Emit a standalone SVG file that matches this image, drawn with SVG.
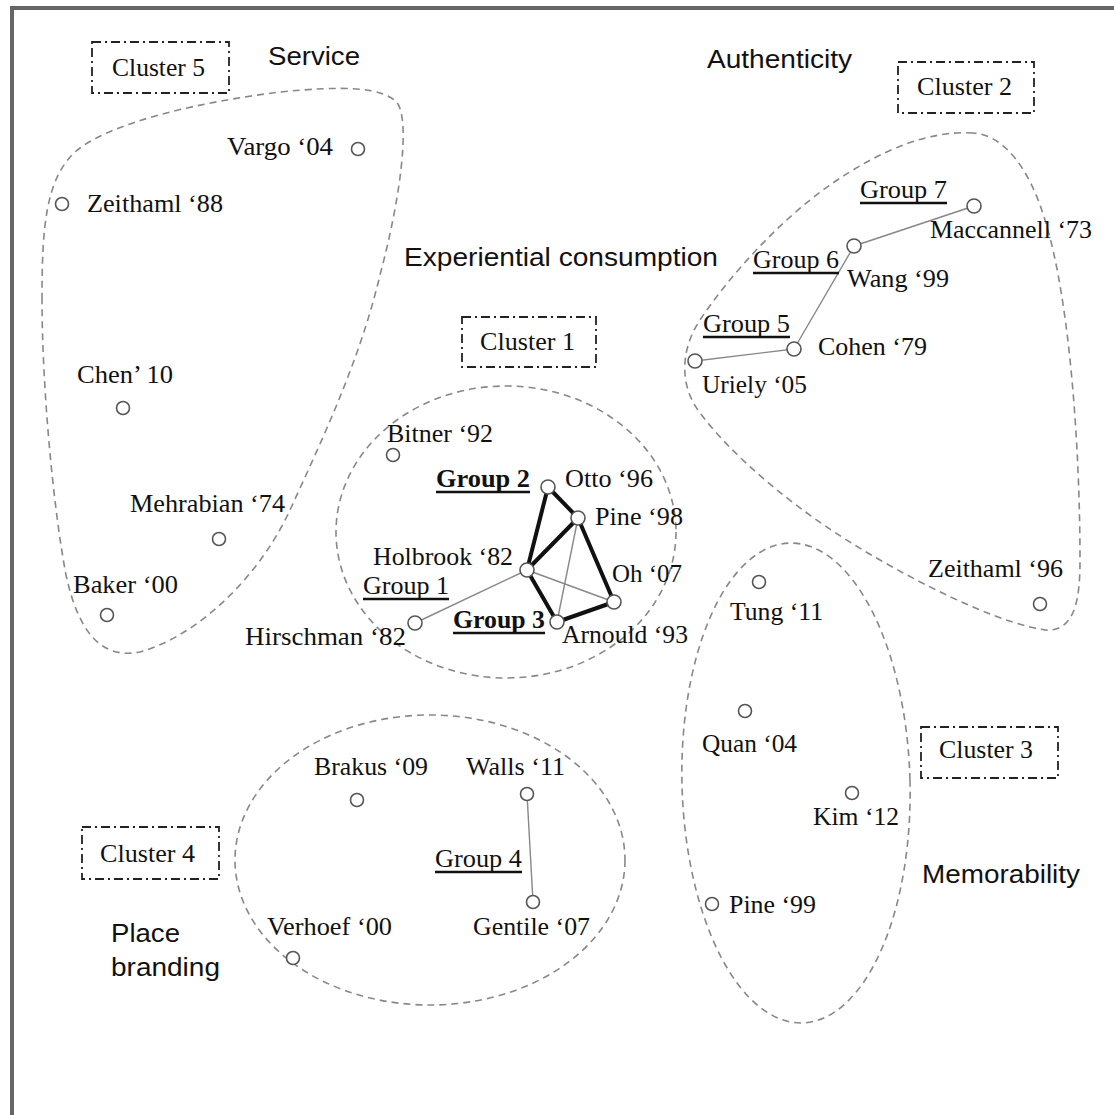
<svg xmlns="http://www.w3.org/2000/svg" width="1114" height="1115" viewBox="0 0 1114 1115">
<style>
.sf{font-family:"Liberation Serif","Times New Roman",serif;font-size:25px;fill:#111}
.sb{font-family:"Liberation Serif","Times New Roman",serif;font-size:25px;font-weight:bold;fill:#111}
.ss{font-family:"Liberation Sans",Arial,sans-serif;font-size:25px;fill:#111}
.nd{fill:#fff;stroke:#555;stroke-width:1.6}
.cb{fill:none;stroke:#222;stroke-width:1.8;stroke-dasharray:9 4 2 4}
.co{fill:none;stroke:#888;stroke-width:1.6;stroke-dasharray:7 5}
.ul{stroke:#111;stroke-width:2.6}
.thin{stroke:#888;stroke-width:1.4}
.thick{stroke:#111;stroke-width:4;stroke-linecap:round}
</style>
<rect x="0" y="0" width="1114" height="1115" fill="#fff"/>
<rect x="12" y="8" width="1300" height="1300" fill="none" stroke="#666" stroke-width="4"/>

<g id="cluster-outlines">
<path id="outline5" class="co" stroke-dasharray="5 3" d="M 42,300 C 42,230 45,180 75,152 C 110,122 200,102 280,92 C 340,86 385,86 398,104 C 410,125 400,200 380,275 C 360,360 322,440 290,510 C 260,575 200,635 140,652 C 100,660 78,630 66,575 C 52,500 42,380 42,300 Z"/>
<ellipse id="outline1" class="co" cx="506" cy="532" rx="170" ry="146"/>
<path id="outline2" class="co" d="M 973,133 C 930,130 880,150 830,185 C 780,220 730,275 700,320 C 680,350 680,385 698,410 C 730,455 800,515 880,560 C 950,600 1010,625 1045,630 C 1075,632 1080,600 1080,560 C 1080,450 1070,300 1045,220 C 1030,170 1005,135 973,133 Z"/>
<ellipse id="outline3" class="co" cx="796" cy="783" rx="114" ry="240" transform="rotate(-1.5 796 783)"/>
<ellipse id="outline4" class="co" cx="430" cy="860" rx="195" ry="145"/>
</g>

<g id="cluster-labels">
<g id="cluster5"><rect class="cb" x="92" y="42" width="137" height="51"/><text class="sf" x="112" y="76" textLength="93" lengthAdjust="spacingAndGlyphs">Cluster 5</text></g>
<g id="cluster2"><rect class="cb" x="898" y="62" width="136" height="51"/><text class="sf" x="917" y="95" textLength="95" lengthAdjust="spacingAndGlyphs">Cluster 2</text></g>
<g id="cluster1"><rect class="cb" x="462" y="317" width="134" height="50"/><text class="sf" x="480" y="350" textLength="95" lengthAdjust="spacingAndGlyphs">Cluster 1</text></g>
<g id="cluster3"><rect class="cb" x="921" y="727" width="137" height="51"/><text class="sf" x="939" y="758" textLength="94" lengthAdjust="spacingAndGlyphs">Cluster 3</text></g>
<g id="cluster4"><rect class="cb" x="82" y="827" width="137" height="52"/><text class="sf" x="100" y="862" textLength="95" lengthAdjust="spacingAndGlyphs">Cluster 4</text></g>
</g>

<g id="theme-labels">
<text class="ss" x="268" y="65" textLength="92" lengthAdjust="spacingAndGlyphs">Service</text>
<text class="ss" x="707" y="68" textLength="145" lengthAdjust="spacingAndGlyphs">Authenticity</text>
<text class="ss" x="404" y="266" textLength="314" lengthAdjust="spacingAndGlyphs">Experiential consumption</text>
<text class="ss" x="922" y="883" textLength="158" lengthAdjust="spacingAndGlyphs">Memorability</text>
<text class="ss" x="111" y="942" textLength="69" lengthAdjust="spacingAndGlyphs">Place</text>
<text class="ss" x="111" y="976" textLength="109" lengthAdjust="spacingAndGlyphs">branding</text>
</g>

<g id="connectors">
<line class="thin" x1="527" y1="570" x2="415" y2="623"/>
<line class="thin" x1="527" y1="570" x2="614" y2="602"/>
<line class="thin" x1="578" y1="518" x2="557" y2="622"/>
<line class="thick" x1="548" y1="487" x2="578" y2="518"/>
<line class="thick" x1="548" y1="487" x2="527" y2="570"/>
<line class="thick" x1="578" y1="518" x2="527" y2="570"/>
<line class="thick" x1="578" y1="518" x2="614" y2="602"/>
<line class="thick" x1="614" y1="602" x2="557" y2="622"/>
<line class="thick" x1="527" y1="570" x2="557" y2="622"/>
<line class="thin" x1="974" y1="206" x2="854" y2="246"/>
<line class="thin" x1="854" y1="246" x2="794" y2="349"/>
<line class="thin" x1="794" y1="349" x2="695" y2="361"/>
<line class="thin" x1="527" y1="794" x2="533" y2="902"/>
</g>

<g id="groups">
<g id="group1"><text class="sf" x="363" y="594" textLength="86" lengthAdjust="spacingAndGlyphs">Group 1</text><line class="ul" x1="363" y1="599" x2="449" y2="599"/></g>
<g id="group2"><text class="sb" x="436" y="487" textLength="94" lengthAdjust="spacingAndGlyphs">Group 2</text><line class="ul" x1="436" y1="492" x2="530" y2="492"/></g>
<g id="group3"><text class="sb" x="453" y="628" textLength="92" lengthAdjust="spacingAndGlyphs">Group 3</text><line class="ul" x1="453" y1="633" x2="545" y2="633"/></g>
<g id="group4"><text class="sf" x="435" y="867" textLength="87" lengthAdjust="spacingAndGlyphs">Group 4</text><line class="ul" x1="435" y1="872" x2="522" y2="872"/></g>
<g id="group5"><text class="sf" x="703" y="332" textLength="87" lengthAdjust="spacingAndGlyphs">Group 5</text><line class="ul" x1="703" y1="337" x2="790" y2="337"/></g>
<g id="group6"><text class="sf" x="753" y="268" textLength="86" lengthAdjust="spacingAndGlyphs">Group 6</text><line class="ul" x1="753" y1="273" x2="839" y2="273"/></g>
<g id="group7"><text class="sf" x="860" y="198" textLength="87" lengthAdjust="spacingAndGlyphs">Group 7</text><line class="ul" x1="860" y1="203" x2="947" y2="203"/></g>
</g>

<g id="nodes">
<g id="vargo04"><circle class="nd" cx="358" cy="149" r="6.5"/><text class="sf" x="227" y="155" textLength="106" lengthAdjust="spacingAndGlyphs">Vargo ‘04</text></g>
<g id="zeithaml88"><circle class="nd" cx="62" cy="204" r="6.5"/><text class="sf" x="87" y="212" textLength="136" lengthAdjust="spacingAndGlyphs">Zeithaml ‘88</text></g>
<g id="chen10"><circle class="nd" cx="123" cy="408" r="6.5"/><text class="sf" x="77" y="383" textLength="96" lengthAdjust="spacingAndGlyphs">Chen’ 10</text></g>
<g id="mehrabian74"><circle class="nd" cx="219" cy="539" r="6.5"/><text class="sf" x="130" y="512" textLength="155" lengthAdjust="spacingAndGlyphs">Mehrabian ‘74</text></g>
<g id="baker00"><circle class="nd" cx="107" cy="615" r="6.5"/><text class="sf" x="73" y="593" textLength="105" lengthAdjust="spacingAndGlyphs">Baker ‘00</text></g>
<g id="bitner92"><circle class="nd" cx="393" cy="455" r="6.5"/><text class="sf" x="387" y="442" textLength="106" lengthAdjust="spacingAndGlyphs">Bitner ‘92</text></g>
<g id="otto96"><circle class="nd" cx="548" cy="487" r="7"/><text class="sf" x="565" y="487" textLength="88" lengthAdjust="spacingAndGlyphs">Otto ‘96</text></g>
<g id="pine98"><circle class="nd" cx="578" cy="518" r="7"/><text class="sf" x="595" y="525" textLength="88" lengthAdjust="spacingAndGlyphs">Pine ‘98</text></g>
<g id="holbrook82"><circle class="nd" cx="527" cy="570" r="7"/><text class="sf" x="373" y="565" textLength="140" lengthAdjust="spacingAndGlyphs">Holbrook ‘82</text></g>
<g id="oh07"><circle class="nd" cx="614" cy="602" r="7"/><text class="sf" x="612" y="582" textLength="70" lengthAdjust="spacingAndGlyphs">Oh ‘07</text></g>
<g id="hirschman82"><circle class="nd" cx="415" cy="623" r="7"/><text class="sf" x="245" y="645" textLength="161" lengthAdjust="spacingAndGlyphs">Hirschman ‘82</text></g>
<g id="arnould93"><circle class="nd" cx="557" cy="622" r="7"/><text class="sf" x="562" y="643" textLength="126" lengthAdjust="spacingAndGlyphs">Arnould ‘93</text></g>
<g id="maccannell73"><circle class="nd" cx="974" cy="206" r="7"/><text class="sf" x="930" y="238" textLength="162" lengthAdjust="spacingAndGlyphs">Maccannell ‘73</text></g>
<g id="wang99"><circle class="nd" cx="854" cy="246" r="7"/><text class="sf" x="847" y="287" textLength="102" lengthAdjust="spacingAndGlyphs">Wang ‘99</text></g>
<g id="cohen79"><circle class="nd" cx="794" cy="349" r="7"/><text class="sf" x="818" y="355" textLength="109" lengthAdjust="spacingAndGlyphs">Cohen ‘79</text></g>
<g id="uriely05"><circle class="nd" cx="695" cy="361" r="7"/><text class="sf" x="702" y="393" textLength="105" lengthAdjust="spacingAndGlyphs">Uriely ‘05</text></g>
<g id="zeithaml96"><circle class="nd" cx="1040" cy="604" r="6.5"/><text class="sf" x="928" y="577" textLength="135" lengthAdjust="spacingAndGlyphs">Zeithaml ‘96</text></g>
<g id="tung11"><circle class="nd" cx="759" cy="582" r="6.5"/><text class="sf" x="730" y="620" textLength="93" lengthAdjust="spacingAndGlyphs">Tung ‘11</text></g>
<g id="quan04"><circle class="nd" cx="745" cy="711" r="6.5"/><text class="sf" x="702" y="752" textLength="95" lengthAdjust="spacingAndGlyphs">Quan ‘04</text></g>
<g id="kim12"><circle class="nd" cx="852" cy="793" r="6.5"/><text class="sf" x="813" y="825" textLength="86" lengthAdjust="spacingAndGlyphs">Kim ‘12</text></g>
<g id="pine99"><circle class="nd" cx="712" cy="904" r="6.5"/><text class="sf" x="729" y="913" textLength="87" lengthAdjust="spacingAndGlyphs">Pine ‘99</text></g>
<g id="brakus09"><circle class="nd" cx="357" cy="800" r="6.5"/><text class="sf" x="314" y="775" textLength="114" lengthAdjust="spacingAndGlyphs">Brakus ‘09</text></g>
<g id="walls11"><circle class="nd" cx="527" cy="794" r="6.5"/><text class="sf" x="466" y="775" textLength="99" lengthAdjust="spacingAndGlyphs">Walls ‘11</text></g>
<g id="gentile07"><circle class="nd" cx="533" cy="902" r="6.5"/><text class="sf" x="473" y="935" textLength="117" lengthAdjust="spacingAndGlyphs">Gentile ‘07</text></g>
<g id="verhoef00"><circle class="nd" cx="293" cy="958" r="6.5"/><text class="sf" x="267" y="935" textLength="125" lengthAdjust="spacingAndGlyphs">Verhoef ‘00</text></g>
</g>
</svg>
